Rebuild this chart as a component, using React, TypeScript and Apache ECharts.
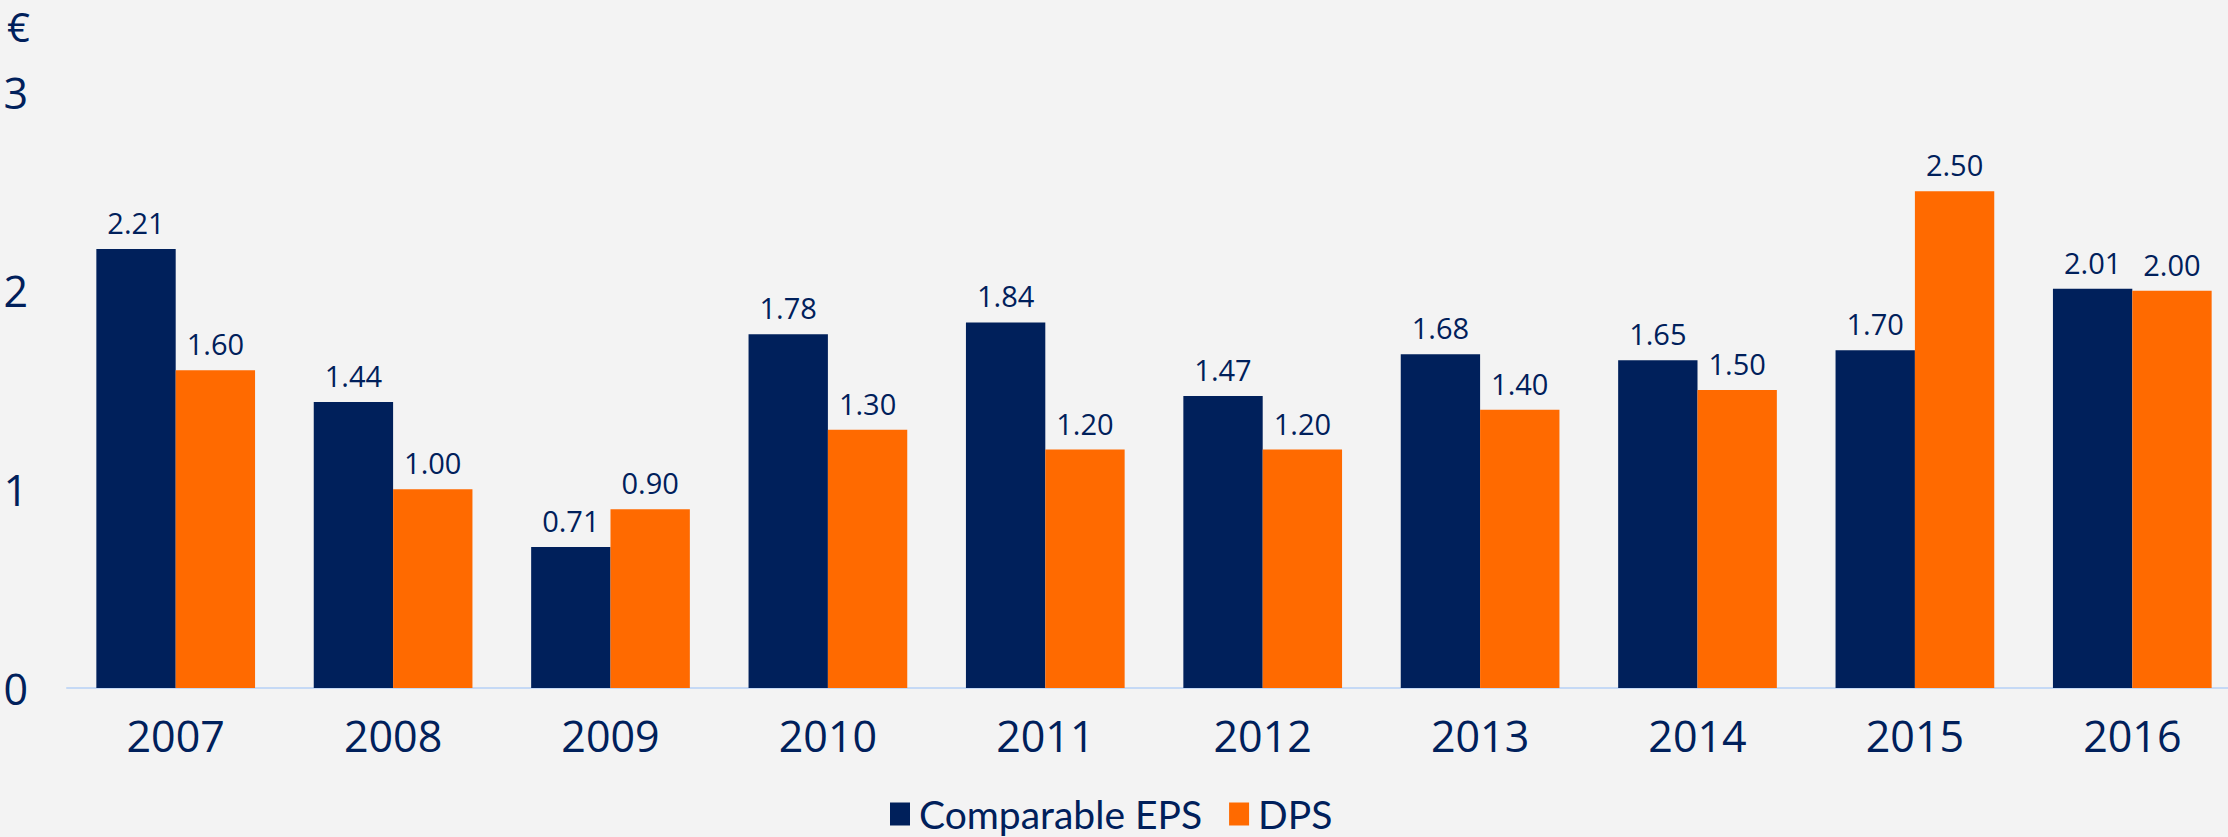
import React, { useEffect, useRef } from "react";
import * as echarts from "echarts";

const years = ["2007", "2008", "2009", "2010", "2011", "2012", "2013", "2014", "2015", "2016"];
const comparableEps = [2.21, 1.44, 0.71, 1.78, 1.84, 1.47, 1.68, 1.65, 1.7, 2.01];
const dps = [1.6, 1.0, 0.9, 1.3, 1.2, 1.2, 1.4, 1.5, 2.5, 2.0];
const seriesNames = ["Comparable EPS", "DPS"];
const unitLabel = "€";

const NAVY = "#00205b";
const ORANGE = "#ff6a00";
const FONT = "'Open Sans', 'Noto Sans', sans-serif";
const LEGEND_FONT = "Lato, 'Open Sans', sans-serif";

export default function App() {
  const ref = useRef<HTMLDivElement>(null);
  useEffect(() => {
    if (!ref.current) return;
    const chart = echarts.init(ref.current, null, { renderer: "svg" });
    const label = {
      show: true,
      position: "top",
      distance: 12,
      color: NAVY,
      fontFamily: FONT,
      fontSize: 29,
      formatter: (p: any) => Number(p.value).toFixed(2),
    };
    chart.setOption({
      animation: false,
      backgroundColor: "#f3f3f3",
      textStyle: { fontFamily: FONT, color: NAVY },
      grid: { left: 67, top: 92, width: 2174, height: 596, containLabel: false },
      legend: {
        data: seriesNames,
        left: 885,
        top: 788,
        itemWidth: 20,
        itemHeight: 23,
        itemGap: 27,
        icon: "rect",
        textStyle: {
          color: NAVY,
          fontSize: 39,
          lineHeight: 42,
          fontFamily: LEGEND_FONT,
          padding: [0, 0, 0, 4],
        },
      },
      graphic: [
        {
          type: "text",
          left: 7,
          top: 6,
          style: { text: unitLabel, fill: NAVY, fontSize: 40, fontFamily: FONT },
        },
      ],
      xAxis: {
        type: "category",
        data: years,
        axisLine: { show: true, lineStyle: { color: "#c5d9f5", width: 2 } },
        axisTick: { show: false },
        axisLabel: { color: NAVY, fontSize: 43, fontFamily: FONT, margin: 26 },
      },
      yAxis: {
        type: "value",
        min: 0,
        max: 3,
        interval: 1,
        splitLine: { show: false },
        axisLine: { show: false },
        axisTick: { show: false },
        axisLabel: { color: NAVY, fontSize: 43, fontFamily: FONT, margin: 39 },
      },
      series: [
        {
          name: seriesNames[0],
          type: "bar",
          data: comparableEps,
          itemStyle: { color: NAVY },
          barGap: "0%",
          barCategoryGap: "27%",
          label,
        },
        {
          name: seriesNames[1],
          type: "bar",
          data: dps,
          itemStyle: { color: ORANGE },
          barGap: "0%",
          barCategoryGap: "27%",
          label,
        },
      ],
    });
    return () => chart.dispose();
  }, []);
  return (
    <div
      style={{
        position: "fixed",
        left: 0,
        top: 0,
        width: 2228,
        height: 837,
        overflow: "hidden",
        background: "#f3f3f3",
      }}
    >
      <div ref={ref} style={{ width: 2244, height: 837 }} />
    </div>
  );
}
